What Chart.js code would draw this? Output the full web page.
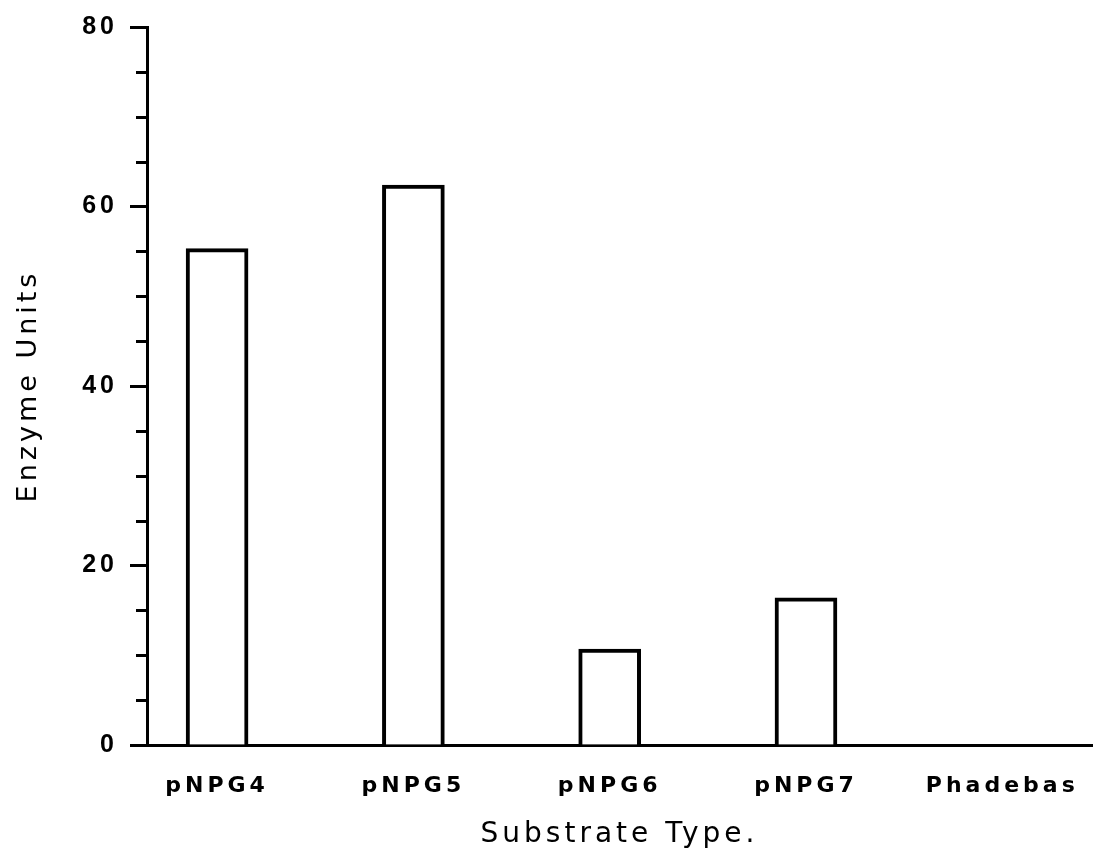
<!DOCTYPE html>
<html>
<head>
<meta charset="utf-8">
<title>Enzyme Units by Substrate Type</title>
<script src="https://cdn.jsdelivr.net/npm/chart.js@4/dist/chart.umd.min.js"></script>
<style>
  html, body { margin: 0; padding: 0; background: #fff; }
  canvas { display: block; }
</style>
</head>
<body>
<canvas id="graficoSubstrato" width="1095" height="859"></canvas>
<script>
// data
const substratos = ["pNPG4", "pNPG5", "pNPG6", "pNPG7", "Phadebas"];
const posicoes = [1, 2, 3, 4, 5];
const unidadesEnzima = [55.3, 62.4, 10.7, 16.4, 0];
const ticksMaiores = [0, 20, 40, 60, 80];

document.addEventListener("DOMContentLoaded", () => {
  const ctx = document.getElementById("graficoSubstrato").getContext("2d");

  // wide tracking like the original typesetting
  const espacamento = {
    id: "espacamento",
    beforeLayout(chart) { chart.ctx.letterSpacing = "4px"; },
    beforeDraw(chart) { chart.ctx.letterSpacing = "4px"; },
  };

  // short minor ticks every 5 units on the y axis
  const ticksMenores = {
    id: "ticksMenores",
    afterDraw(chart) {
      const y = chart.scales.y;
      const c = chart.ctx;
      const x0 = chart.chartArea.left;
      c.save();
      c.strokeStyle = "#000";
      c.lineWidth = 3;
      for (let v = y.min; v <= y.max; v += 5) {
        if (ticksMaiores.includes(v)) continue;
        const py = Math.round(y.getPixelForValue(v)) + 0.5;
        c.beginPath();
        c.moveTo(x0 - 11, py);
        c.lineTo(x0, py);
        c.stroke();
      }
      c.restore();
    },
  };

  new Chart(ctx, {
    type: "bar",
    data: {
      datasets: [
        {
          data: posicoes.map((p, i) => ({ x: p, y: unidadesEnzima[i] })),
          backgroundColor: "#fff",
          borderColor: "#000",
          borderWidth: 4,
          borderSkipped: "bottom",
          barThickness: 62,
        },
      ],
    },
    options: {
      responsive: false,
      animation: false,
      layout: { padding: { top: 27, right: 3, left: 0, bottom: 0 } },
      plugins: { legend: { display: false }, tooltip: { enabled: false } },
      scales: {
        x: {
          type: "linear",
          offset: false,
          min: 0.643,
          max: 5.457,
          afterFit: (scale) => {
            scale.height = 114;
            scale.paddingLeft = 0;
            scale.paddingRight = 0;
          },
          afterBuildTicks: (scale) => {
            scale.ticks = posicoes.map((p) => ({ value: p }));
          },
          grid: { drawOnChartArea: false, drawTicks: false },
          border: { color: "#000", width: 3 },
          ticks: {
            autoSkip: false,
            maxRotation: 0,
            padding: 28,
            color: "#000",
            font: { family: "DejaVu Sans", size: 22, weight: "bold" },
            callback: (v) => substratos[posicoes.indexOf(v)] || "",
          },
          title: {
            display: true,
            text: "Substrate Type.",
            color: "#000",
            font: { family: "DejaVu Sans", size: 28 },
            padding: { top: 0, bottom: 7 },
          },
        },
        y: {
          min: 0,
          max: 80,
          afterFit: (scale) => { scale.width = 147; },
          grid: {
            drawOnChartArea: false,
            tickLength: 17,
            tickWidth: 3,
            tickColor: (c) =>
              c.tick && ticksMaiores.includes(c.tick.value) ? "#000" : "rgba(0,0,0,0)",
          },
          border: { color: "#000", width: 3 },
          ticks: {
            stepSize: 5,
            autoSkip: false,
            padding: 12,
            color: "#000",
            font: { family: "Liberation Sans", size: 25, weight: "bold" },
            callback: (v) => (ticksMaiores.includes(v) ? v : ""),
          },
          title: {
            display: true,
            text: "Enzyme Units",
            color: "#000",
            font: { family: "DejaVu Sans", size: 27 },
            padding: { top: 13, bottom: 0 },
          },
        },
      },
    },
    plugins: [espacamento, ticksMenores],
  });
});
</script>
</body>
</html>
